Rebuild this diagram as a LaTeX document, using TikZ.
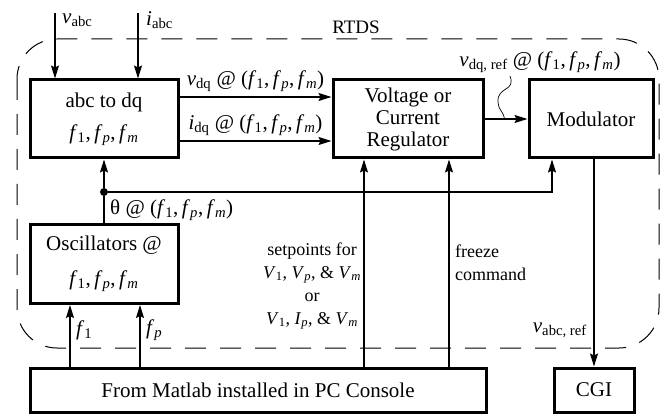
\documentclass[tikz,border=0pt]{standalone}
\usepackage{fontspec}
\setmainfont{Liberation Serif}
\usetikzlibrary{arrows.meta}

\newcommand{\sub}[2]{\textit{#1}\textsubscript{#2}}
\newcommand{\fset}{\sub{f}{1},\,\sub{f}{\textit{p}},\,\sub{f}{\textit{m}}}

\begin{document}
\begin{tikzpicture}[x=1pt,y=-1pt,
    block/.style={draw, line width=3pt, align=center, inner sep=0pt, font=\fontsize{21}{22}\selectfont},
    arr/.style={line width=1.2pt, -{Stealth[length=13pt,width=8pt,inset=2pt]}},
    wire/.style={line width=1.2pt},
    lbl/.style={font=\fontsize{21}{23}\selectfont, inner sep=0pt},
    small/.style={font=\fontsize{18}{23}\selectfont, inner sep=0pt}]
      \useasboundingbox (0,0) rectangle (672,414);

      % RTDS frame
      \draw [dashed, dash pattern=on 21pt off 14pt, line width=1pt, rounded corners=40pt] (17,39) rectangle (659,348);
      \node [lbl, font=\fontsize{19}{22}\selectfont] (rtds) at (356,27) {RTDS};

      % blocks
      \node [block, minimum width=148pt, minimum height=78pt] (abc) at (104,119) {abc to dq\\[10pt]\fset};
      \node [block, minimum width=150pt, minimum height=78pt] (reg) at (408,119) {Voltage or\\Current\\Regulator};
      \node [block, minimum width=124pt, minimum height=78pt] (mod) at (591,119) {Modulator};
      \node [block, minimum width=148pt, minimum height=79pt] (osc) at (104,264) {Oscillators @\\[13pt]\fset};
      \node [block, minimum width=456pt, minimum height=44pt] (matlab) at (258,390) {From Matlab installed in PC Console};
      \node [block, minimum width=80pt, minimum height=44pt] (cgi) at (594,390) {CGI};

      % measured inputs
      \coordinate (vin) at (55,13);
      \coordinate (iin) at (138,13);
      \draw [arr] (vin) -- (vin |- abc.north);
      \draw [arr] (iin) -- (iin |- abc.north);
      \node [lbl, anchor=west] (vlbl) at (62,20) {\sub{v}{abc}};
      \node [lbl, anchor=west] (ilbl) at (146,20) {\sub{i}{abc}};

      % dq signals
      \draw [arr] ([yshift=22pt]abc.east) -- node[lbl, above=5pt] (vdq) {\sub{v}{dq} @ (\fset)} ([yshift=22pt]reg.west);
      \draw [arr] ([yshift=-22pt]abc.east) -- node[lbl, above=5pt] (idq) {\sub{i}{dq} @ (\fset)} ([yshift=-22pt]reg.west);
      \draw [arr] (reg.east) -- (mod.west);
      \node [lbl] (vref) at (540,62) {\sub{v}{dq, ref} @ (\fset)};
      \coordinate (tap) at ([xshift=20pt]reg.east);
      \draw [line width=0.7pt] (510,76) .. controls (516,92) and (497,86) .. (498,102) .. controls (499,112) and (503,110) .. (tap);

      % angle
      \node [circle, fill, inner sep=0pt, minimum size=8pt] (dot) at (104,192) {};
      \draw [wire] (osc.north) -- (dot);
      \draw [arr] (dot) -- (abc.south);
      \draw [arr] (dot) -| ([xshift=-39pt]mod.south);
      \node [lbl, anchor=west] (theta) at (110,210) {θ @ (\fset)};

      % commands from the console
      \coordinate (sp) at ([xshift=-44pt]reg.south);
      \coordinate (frz) at ([xshift=41pt]reg.south);
      \draw [arr] (matlab.north -| sp) -- (sp);
      \draw [arr] (matlab.north -| frz) -- (frz);
      \node [small, align=center] (spl) at (312,286) {setpoints for\\\sub{V}{1}, \sub{V}{\textit{p}}, \& \sub{V}{\textit{m}}\\or\\\sub{V}{1}, \sub{I}{\textit{p}}, \& \sub{V}{\textit{m}}};
      \node [small, align=left, anchor=west] (frzl) at (455,263) {freeze\\command};

      \coordinate (f1) at ([xshift=-34pt]osc.south);
      \coordinate (fp) at ([xshift=36pt]osc.south);
      \draw [arr] (matlab.north -| f1) -- (f1);
      \draw [arr] (matlab.north -| fp) -- (fp);
      \node [lbl, anchor=west] (f1l) at (76,330) {\sub{f}{1}};
      \node [lbl, anchor=west] (fpl) at (146,330) {\sub{f}{\textit{p}}};

      % output
      \draw [arr] (mod.south -| cgi.north) -- (cgi.north);
      \node [lbl, anchor=east] (vabcref) at (587,330) {\sub{v}{abc, ref}};

  \end{tikzpicture}
\end{document}
